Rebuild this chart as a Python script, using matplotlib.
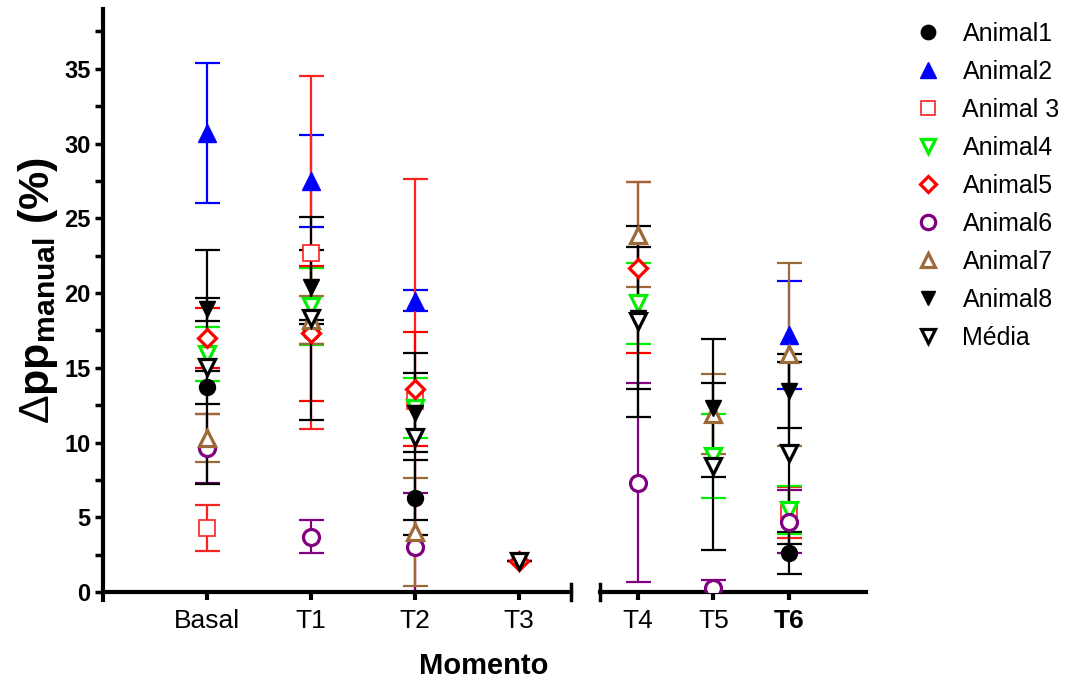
import numpy as np
import matplotlib
matplotlib.use('Agg')
import matplotlib.pyplot as plt
from matplotlib.lines import Line2D

plt.rcParams['font.family'] = ['Liberation Sans', 'DejaVu Sans']
plt.rcParams['mathtext.fontset'] = 'custom'
plt.rcParams['mathtext.rm'] = 'Liberation Sans'
plt.rcParams['mathtext.bf'] = 'Liberation Sans:bold'
plt.rcParams['mathtext.it'] = 'Liberation Sans:italic'

nan = np.nan
categories = ['Basal', 'T1', 'T2', 'T3', 'T4', 'T5', 'T6']
labels = ['Animal1', 'Animal2', 'Animal 3', 'Animal4', 'Animal5', 'Animal6', 'Animal7', 'Animal8', 'Média']

animal1 = [13.7, 17.4, 6.3, nan, nan, nan, 2.6]
animal1_sd = [1.1, 0.8, 2.5, nan, nan, nan, 1.4]
animal2 = [30.7, 27.5, 19.5, nan, nan, nan, 17.2]
animal2_sd = [4.7, 3.1, 0.7, nan, nan, nan, 3.6]
animal3 = [4.3, 22.7, 12.8, nan, nan, nan, 5.3]
animal3_sd = [1.55, 11.8, 14.8, nan, nan, nan, 1.7]
animal4 = [15.9, 19.1, 12.3, nan, 19.3, 9.1, 5.5]
animal4_sd = [1.8, 2.6, 2.0, nan, 2.7, 2.8, 1.6]
animal5 = [17.0, 17.3, 13.6, 2.1, 21.7, nan, nan]
animal5_sd = [2.0, 4.5, 3.8, 0.0, 5.7, nan, nan]
animal6 = [9.6, 3.7, 3.0, nan, 7.3, 0.3, 4.7]
animal6_sd = [2.3, 1.1, 3.6, nan, 6.65, 0.5, 2.1]
animal7 = [10.3, 18.2, 4.0, nan, 23.9, 11.9, 15.9]
animal7_sd = [1.6, 1.6, 3.6, nan, 3.5, 2.7, 6.1]
animal8 = [18.9, 20.4, 12.0, nan, 18.3, 12.3, 13.45]
animal8_sd = [0.8, 2.45, 2.65, nan, 4.75, 4.6, 2.45]
media = [15.05, 18.3, 10.4, 2.1, 18.1, 8.4, 9.3]
media_sd = [7.85, 6.8, 5.6, 0.0, 6.4, 5.6, 6.1]

means = [animal1, animal2, animal3, animal4, animal5, animal6, animal7, animal8, media]
sds = [animal1_sd, animal2_sd, animal3_sd, animal4_sd, animal5_sd, animal6_sd, animal7_sd, animal8_sd, media_sd]

brown = '#9C6A38'
# (color, marker, filled, size, marker edge width)
styles = [
    ('black', 'o', True, 11.5, 1.0),
    ('#0000FF', '^', True, 13, 1.0),
    ('#FF2020', 's', False, 11.5, 1.2),
    ('#00EE00', 'v', False, 11.5, 2.3),
    ('#FF0000', 'D', False, 9, 2.3),
    ('#800080', 'o', False, 11.5, 2.3),
    (brown, '^', False, 11.5, 2.3),
    ('black', 'v', True, 11.5, 1.0),
    ('black', 'v', False, 11.5, 2.3),
]

W, H = 1072, 683
fig = plt.figure(figsize=(W / 100, H / 100), dpi=100)

y0_px, ytop_px = 592, 9
bottom = (H - y0_px) / H
height = (y0_px - ytop_px) / H
ax1 = fig.add_axes([103 / W, bottom, 468 / W, height])
ax2 = fig.add_axes([600 / W, bottom, 266 / W, height])

ymax = 39
ax1.set_xlim(0, 4.5)
ax2.set_xlim(0.5, 4.02)
for ax in (ax1, ax2):
    ax.set_ylim(0, ymax)
    ax.spines['top'].set_visible(False)
    ax.spines['right'].set_visible(False)
    ax.spines['bottom'].set_linewidth(3)
    ax.spines['left'].set_linewidth(3)
    ax.tick_params(axis='x', direction='out', length=6, width=3, pad=6, labelsize=19)

ax2.spines['left'].set_visible(False)
ax2.tick_params(axis='y', left=False, labelleft=False)

ax1.set_yticks(np.arange(0, 36, 5))
ax1.set_yticks(np.arange(2.5, 39, 5), minor=True)
ax1.tick_params(axis='y', which='both', direction='out', length=6, width=2.5, labelsize=17, pad=3)
for t in ax1.get_yticklabels():
    t.set_fontweight('bold')

left_idx = [0, 1, 2, 3]
right_idx = [4, 5, 6]
ax1.set_xticks(range(1, 5))
ax1.set_xticklabels(categories[:4])
ax2.set_xticks(range(1, 4))
ax2.set_xticklabels(categories[4:])
ax2.get_xticklabels()[-1].set_fontweight('bold')

for k in range(len(means)):
    color, marker, filled, ms, mew = styles[k]
    m = np.array(means[k], dtype=float)
    s = np.array(sds[k], dtype=float)
    for ax, idx in ((ax1, left_idx), (ax2, right_idx)):
        xs = np.arange(1, len(idx) + 1)
        ax.errorbar(xs, m[idx], yerr=s[idx], fmt='none', ecolor=color, elinewidth=1.6,
                    capsize=9, capthick=1.6, zorder=2 + k * 0.1)
        ax.plot(xs, m[idx], linestyle='none', marker=marker, ms=ms,
                markerfacecolor=color if filled else 'white', markeredgecolor=color,
                markeredgewidth=mew, zorder=3 + k * 0.1)

# break marks and axis extension
ax1.plot([1, 1], [-0.013, 0.013], transform=ax1.transAxes, color='k', lw=2.5, clip_on=False)
ax2.plot([0, 0], [-0.013, 0.013], transform=ax2.transAxes, color='k', lw=2.5, clip_on=False)
ax1.plot([0, 0], [0, -0.017], transform=ax1.transAxes, color='k', lw=3, clip_on=False,
         solid_capstyle='butt')

fig.text(16 / W, (H - 291) / H, r'$\Delta\mathbf{pp}_{\mathbf{manual}}\ \mathbf{(\%)}$',
         rotation=90, ha='left', va='center', fontsize=31)
fig.text(484 / W, (H - 666) / H, 'Momento', ha='center', va='center', fontsize=21,
         fontweight='bold')

handles = []
for k in range(len(labels)):
    color, marker, filled, ms, mew = styles[k]
    handles.append(Line2D([], [], linestyle='none', marker=marker, ms=ms * 0.9,
                          markerfacecolor=color if filled else 'white', markeredgecolor=color,
                          markeredgewidth=mew, label=labels[k]))
fig.legend(handles=handles, loc='upper left', bbox_to_anchor=(905 / W, 1 - 12 / H),
           frameon=False, fontsize=18, handlelength=1.0, handletextpad=0.9,
           labelspacing=0.56, borderaxespad=0)

fig.savefig('out.png', dpi=100)
